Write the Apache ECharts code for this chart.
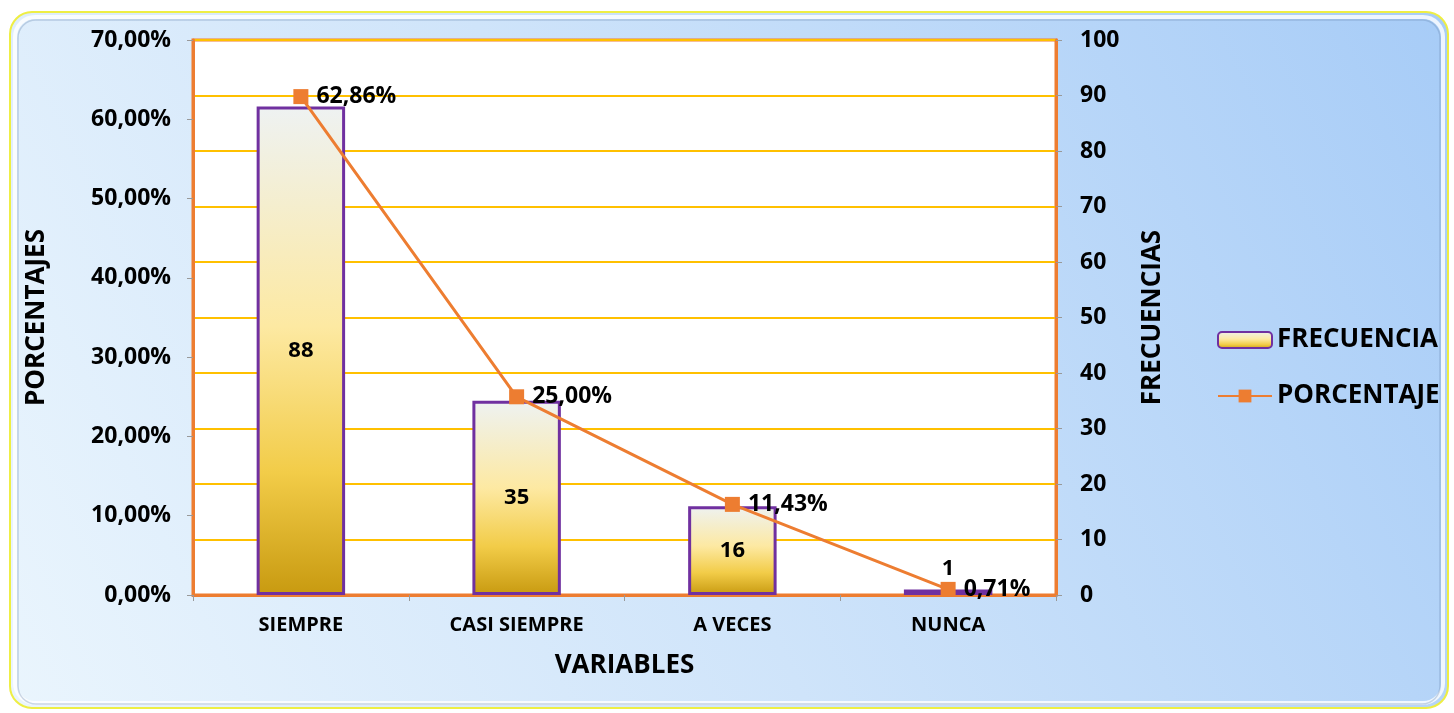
<!DOCTYPE html>
<html>
<head>
<meta charset="utf-8">
<script src="https://cdn.jsdelivr.net/npm/echarts@6/dist/echarts.min.js"></script>
<style>
  html, body { margin: 0; padding: 0; background: #fff; }
  #chart { width: 1454px; height: 713px; }
</style>
</head>
<body>
<div id="chart"></div>
<script>
  // values
  const categories = ['SIEMPRE', 'CASI SIEMPRE', 'A VECES', 'NUNCA']
  const frecuencia = [88, 35, 16, 1]
  const porcentaje = [62.86, 25.00, 11.43, 0.71]

  const FONT = '"Open Sans", "Liberation Sans", sans-serif'
  const ORANGE = '#ED7D31'

  const fmtPct = v => v.toFixed(2).replace('.', ',') + '%'

  const barGradient = new echarts.graphic.LinearGradient(0, 0, 0, 1, [
    { offset: 0, color: '#eef2f2' },
    { offset: 0.45, color: '#fde9a2' },
    { offset: 0.75, color: '#f2cc48' },
    { offset: 1, color: '#c89a10' }
  ])

  const chart = echarts.init(document.getElementById('chart'))

  const option = {
    animation: false,
    textStyle: { fontFamily: FONT },
    graphic: [
      {
        type: 'rect',
        z: -100,
        silent: true,
        shape: { x: 10, y: 12, width: 1438, height: 696, r: 22 },
        style: {
          fill: new echarts.graphic.LinearGradient(0, 1, 1, 0, [
            { offset: 0, color: '#eaf5fd' },
            { offset: 0.45, color: '#cfe4fa' },
            { offset: 1, color: '#a7ccf7' }
          ]),
          stroke: '#eeee44',
          lineWidth: 2
        }
      },
      {
        type: 'rect',
        z: -99,
        silent: true,
        shape: { x: 15, y: 17, width: 1428, height: 686, r: 20 },
        style: { fill: 'none', stroke: 'rgba(255,255,255,0.8)', lineWidth: 4 }
      },
      {
        type: 'rect',
        z: -98,
        silent: true,
        shape: { x: 18, y: 20, width: 1422, height: 684, r: 18 },
        style: { fill: 'none', stroke: 'rgba(110,140,180,0.35)', lineWidth: 1.5 }
      }
    ],
    grid: {
      left: 193,
      right: 398,
      top: 40,
      bottom: 118,
      show: true,
      backgroundColor: '#ffffff',
      borderColor: ORANGE,
      borderWidth: 3
    },
    legend: {
      orient: 'vertical',
      left: 1212,
      top: 322,
      itemGap: 30,
      itemWidth: 54,
      itemHeight: 16,
      textStyle: { fontFamily: FONT, fontSize: 26, fontWeight: 'bold', color: '#000' },
      data: ['FRECUENCIA', 'PORCENTAJE']
    },
    xAxis: {
      type: 'category',
      data: categories,
      name: 'VARIABLES',
      nameLocation: 'middle',
      nameGap: 58,
      nameTextStyle: { fontSize: 26, fontWeight: 'bold', color: '#000' },
      axisLine: { lineStyle: { color: ORANGE, width: 3 } },
      axisTick: { show: true, length: 6, lineStyle: { color: '#999' } },
      axisLabel: { fontSize: 20, fontWeight: 'bold', color: '#000', margin: 20 }
    },
    yAxis: [
      {
        type: 'value',
        position: 'left',
        min: 0,
        max: 70,
        interval: 10,
        name: 'PORCENTAJES',
        nameLocation: 'middle',
        nameRotate: 90,
        nameGap: 143,
        nameTextStyle: { fontSize: 26, fontWeight: 'bold', color: '#000' },
        axisLine: { show: true, lineStyle: { color: ORANGE, width: 3 } },
        axisTick: { show: true, length: 6, lineStyle: { color: '#999' } },
        axisLabel: {
          fontSize: 23, fontWeight: 'bold', color: '#000', margin: 22,
          formatter: v => fmtPct(v)
        },
        splitLine: { show: false }
      },
      {
        type: 'value',
        position: 'right',
        min: 0,
        max: 100,
        interval: 10,
        name: 'FRECUENCIAS',
        nameLocation: 'middle',
        nameRotate: 90,
        nameGap: 84,
        nameTextStyle: { fontSize: 26, fontWeight: 'bold', color: '#000' },
        axisLine: { show: true, lineStyle: { color: ORANGE, width: 3 } },
        axisTick: { show: true, length: 6, lineStyle: { color: '#999' } },
        axisLabel: { fontSize: 23, fontWeight: 'bold', color: '#000', margin: 24 },
        splitLine: { show: true, lineStyle: { color: '#FFC000', width: 2 } }
      }
    ],
    series: [
      {
        name: 'FRECUENCIA',
        type: 'bar',
        yAxisIndex: 1,
        barWidth: '41%',
        itemStyle: {
          color: barGradient,
          borderColor: '#7030A0',
          borderWidth: 3
        },
        label: {
          show: true,
          position: 'inside',
          fontSize: 22,
          fontWeight: 'bold',
          color: '#000'
        },
        data: frecuencia.map((v, i) => i === frecuencia.length - 1
          ? { value: v, label: { position: 'top', distance: 10 } }
          : v)
      },
      {
        name: 'PORCENTAJE',
        type: 'line',
        yAxisIndex: 0,
        symbol: 'rect',
        symbolSize: 15,
        z: 5,
        lineStyle: { color: ORANGE, width: 3 },
        itemStyle: { color: ORANGE },
        label: {
          show: true,
          position: 'right',
          distance: 8,
          fontSize: 23,
          fontWeight: 'bold',
          color: '#000',
          formatter: p => fmtPct(p.value)
        },
        data: porcentaje
      }
    ]
  }

  chart.setOption(option)
</script>
</body>
</html>
